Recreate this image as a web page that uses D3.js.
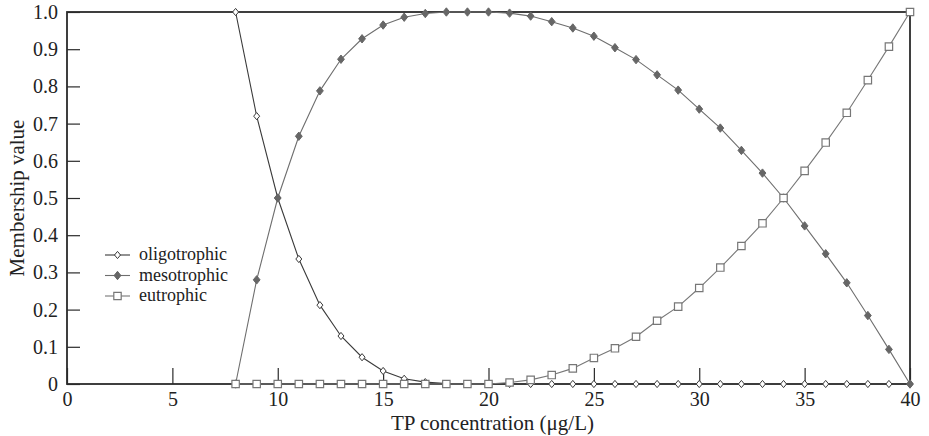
<!DOCTYPE html>
<html>
<head>
<meta charset="utf-8">
<script src="https://cdn.jsdelivr.net/npm/d3@7"></script>
<style>
  body { margin: 0; background: #fff; }
  svg { display: block; }
</style>
</head>
<body>
<div id="chart"></div>
<script>
// Membership functions for trophic state vs TP concentration

const tp = [8, 9, 10, 11, 12, 13, 14, 15, 16, 17, 18, 19, 20, 21, 22, 23, 24,
            25, 26, 27, 28, 29, 30, 31, 32, 33, 34, 35, 36, 37, 38, 39, 40];

const oligotrophic = [1.0, 0.72, 0.5, 0.336, 0.212, 0.129, 0.072, 0.035, 0.014, 0.005, 0.001,
                      0, 0, 0, 0, 0, 0, 0, 0, 0, 0, 0, 0, 0, 0, 0, 0, 0, 0, 0, 0, 0, 0];

const mesotrophic = [0, 0.28, 0.5, 0.666, 0.788, 0.873, 0.928, 0.965, 0.986, 0.996, 1.0,
                     1.0, 1.0, 0.997, 0.989, 0.974, 0.957, 0.935, 0.904, 0.872, 0.831, 0.79,
                     0.739, 0.688, 0.628, 0.567, 0.5, 0.425, 0.35, 0.272, 0.184, 0.093, 0];

const eutrophic = [0, 0, 0, 0, 0, 0, 0, 0, 0, 0, 0, 0, 0,
                   0.004, 0.011, 0.024, 0.042, 0.07, 0.096, 0.127, 0.17, 0.208,
                   0.258, 0.313, 0.371, 0.432, 0.5, 0.573, 0.649, 0.729, 0.817, 0.907, 1.0];

const xTicks = [0, 5, 10, 15, 20, 25, 30, 35, 40];
const yTicks = [0, 0.1, 0.2, 0.3, 0.4, 0.5, 0.6, 0.7, 0.8, 0.9, 1.0];
const seriesNames = ["oligotrophic", "mesotrophic", "eutrophic"];

const width = 929, height = 436;
const margin = { top: 12, right: 19, bottom: 52, left: 67 };
const FONT = "'Liberation Serif', 'Times New Roman', serif";
const AXIS = "#2b2b2b";

const svg = d3.select("#chart").append("svg")
  .attr("width", width)
  .attr("height", height);

const x = d3.scaleLinear().domain([0, 40]).range([margin.left, width - margin.right]);
const y = d3.scaleLinear().domain([0, 1]).range([height - margin.bottom, margin.top]);

// axes (ticks point inward)
const yAxis = svg.append("g")
  .attr("transform", `translate(${margin.left},0)`)
  .call(d3.axisLeft(y)
    .tickValues(yTicks)
    .tickSizeInner(-13)
    .tickSizeOuter(0)
    .tickPadding(9)
    .tickFormat(d => d === 0 ? "0" : d3.format(".1f")(d)));

const xAxis = svg.append("g")
  .attr("transform", `translate(0,${y(0)})`)
  .call(d3.axisBottom(x)
    .tickValues(xTicks)
    .tickSizeInner(-16)
    .tickSizeOuter(0)
    .tickPadding(8));

[yAxis, xAxis].forEach(g => {
  g.select(".domain").remove();
  g.selectAll("line").attr("stroke", AXIS).attr("stroke-width", 1.2);
  g.selectAll("text")
    .style("font-family", FONT)
    .style("font-size", "20px")
    .attr("fill", "#222");
});

// frame
svg.append("rect")
  .attr("x", x(0)).attr("y", y(1))
  .attr("width", x(40) - x(0))
  .attr("height", y(0) - y(1))
  .attr("fill", "none")
  .attr("stroke", AXIS)
  .attr("stroke-width", 1.8);

// axis titles
svg.append("text")
  .attr("x", (x(0) + x(40)) / 2 + 4)
  .attr("y", 430)
  .attr("text-anchor", "middle")
  .style("font-family", FONT)
  .style("font-size", "21px")
  .attr("fill", "#222")
  .text("TP concentration (μg/L)");

svg.append("text")
  .attr("transform", `translate(24,${(y(0) + y(1)) / 2}) rotate(-90)`)
  .attr("text-anchor", "middle")
  .style("font-family", FONT)
  .style("font-size", "21px")
  .attr("fill", "#222")
  .text("Membership value");

// marker shapes
const diamond = (w, h) => `M0,${-h}L${w},0L0,${h}L${-w},0Z`;
const square = s => `M${-s},${-s}H${s}V${s}H${-s}Z`;

const series = [
  { name: seriesNames[0], values: oligotrophic, line: "#3a3a3a", fill: "#fff", stroke: "#3a3a3a", shape: diamond(3, 3.6), sw: 1 },
  { name: seriesNames[1], values: mesotrophic,  line: "#6e6e6e", fill: "#666", stroke: "#666",    shape: diamond(3.4, 4.2), sw: 1 },
  { name: seriesNames[2], values: eutrophic,    line: "#777",    fill: "#fff", stroke: "#777",    shape: square(3.7), sw: 1.2 }
];

const line = d3.line()
  .x((d, i) => x(tp[i]))
  .y(d => y(d));

series.forEach(s => {
  const g = svg.append("g");
  g.append("path")
    .attr("d", line(s.values))
    .attr("fill", "none")
    .attr("stroke", s.line)
    .attr("stroke-width", 1.1);

  g.selectAll("path.mk")
    .data(s.values)
    .join("path")
    .attr("class", "mk")
    .attr("transform", (d, i) => `translate(${x(tp[i])},${y(d)})`)
    .attr("d", s.shape)
    .attr("fill", s.fill)
    .attr("stroke", s.stroke)
    .attr("stroke-width", s.sw);
});

// legend
const legend = svg.append("g").attr("transform", "translate(105,255)");
series.forEach((s, i) => {
  const row = legend.append("g").attr("transform", `translate(0,${i * 20.5})`);
  row.append("line")
    .attr("x1", 0).attr("x2", 25)
    .attr("stroke", s.line)
    .attr("stroke-width", 1.1);
  row.append("path")
    .attr("transform", "translate(12.5,0)")
    .attr("d", s.shape)
    .attr("fill", s.fill)
    .attr("stroke", s.stroke)
    .attr("stroke-width", s.sw);
  row.append("text")
    .attr("x", 34).attr("y", 5)
    .style("font-family", FONT)
    .style("font-size", "18px")
    .attr("fill", "#222")
    .text(s.name);
});
</script>
</body>
</html>
